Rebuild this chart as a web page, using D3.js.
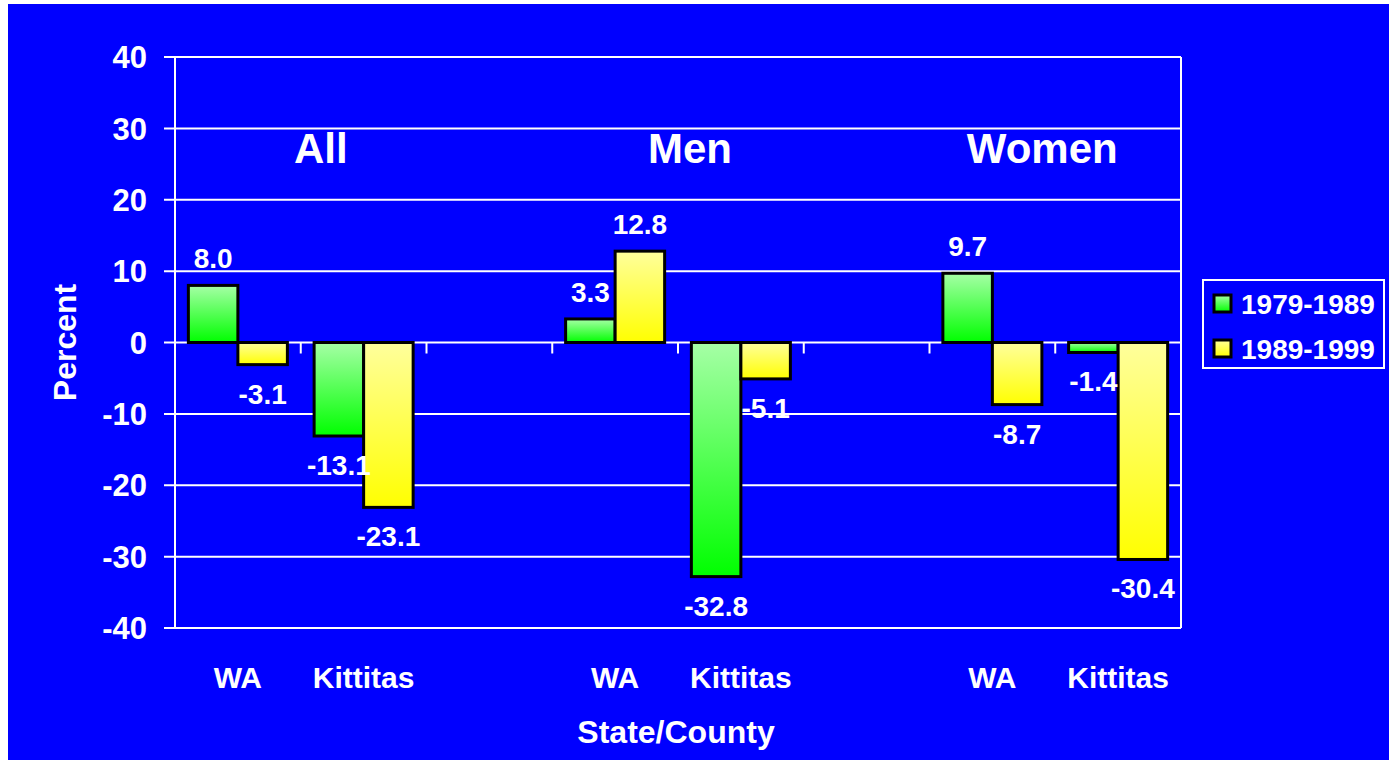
<!DOCTYPE html>
<html>
<head>
<meta charset="utf-8">
<script src="https://cdn.jsdelivr.net/npm/d3@7"></script>
<style>
  html, body { margin: 0; padding: 0; background: #ffffff; }
  svg { display: block; }
  text { font-family: "Liberation Sans", Arial, sans-serif; font-weight: bold; fill: #ffffff; }
</style>
</head>
<body>
<svg id="chart" width="1389" height="760"></svg>
<script>
// Percent change by state/county, split into All / Men / Women panels
const categories = ["WA", "Kittitas", "", "WA", "Kittitas", "", "WA", "Kittitas"];
const seriesNames = ["1979-1989", "1989-1999"];
const values1979 = [8.0, -13.1, null, 3.3, -32.8, null, 9.7, -1.4];
const values1989 = [-3.1, -23.1, null, 12.8, -5.1, null, -8.7, -30.4];
const groupTitles = ["All", "Men", "Women"];
const yTicks = [-40, -30, -20, -10, 0, 10, 20, 30, 40];

const svg = d3.select("#chart");
const W = 1389, H = 760;
const BLUE = "#0000ff";

// background panel (thin white margin on left/top)
svg.append("rect").attr("x", 8).attr("y", 4).attr("width", W - 8).attr("height", H - 4).attr("fill", BLUE);

const plot = { left: 175, right: 1181, top: 57, bottom: 628 };

const x = d3.scaleBand().domain(d3.range(categories.length)).range([plot.left, plot.right]).padding(0);
const xInner = d3.scaleBand().domain(seriesNames).range([0, x.bandwidth()]).paddingInner(0).paddingOuter(0.27);
const y = d3.scaleLinear().domain([-40, 40]).range([plot.bottom, plot.top]);

// gradients
const defs = svg.append("defs");
const grads = [
  { id: "g0", top: "#a6ffa6", bottom: "#00ff00" },
  { id: "g1", top: "#ffff9c", bottom: "#ffff00" }
];
grads.forEach(g => {
  const lg = defs.append("linearGradient").attr("id", g.id).attr("x1", 0).attr("y1", 0).attr("x2", 0).attr("y2", 1);
  lg.append("stop").attr("offset", "0%").attr("stop-color", g.top);
  lg.append("stop").attr("offset", "100%").attr("stop-color", g.bottom);
});

// gridlines with left tick marks
svg.append("g").selectAll("line").data(yTicks).join("line")
  .attr("x1", plot.left - 11).attr("x2", plot.right)
  .attr("y1", d => y(d)).attr("y2", d => y(d))
  .attr("stroke", "#fff").attr("stroke-width", 2);

// plot frame verticals
[plot.left, plot.right].forEach(px => {
  svg.append("line").attr("x1", px).attr("x2", px).attr("y1", plot.top).attr("y2", plot.bottom)
    .attr("stroke", "#fff").attr("stroke-width", 2);
});

// y tick labels
svg.append("g").selectAll("text").data(yTicks).join("text")
  .attr("x", 147).attr("y", d => y(d)).attr("dy", "0.36em")
  .attr("text-anchor", "end").attr("font-size", 31)
  .text(d => d);

// category boundary ticks on zero line
svg.append("g").selectAll("line").data(d3.range(1, categories.length)).join("line")
  .attr("x1", d => plot.left + d * x.step()).attr("x2", d => plot.left + d * x.step())
  .attr("y1", y(0)).attr("y2", y(0) + 11)
  .attr("stroke", "#fff").attr("stroke-width", 2);

// bars
const rows = [];
categories.forEach((c, i) => {
  [values1979, values1989].forEach((arr, s) => {
    if (arr[i] !== null) rows.push({ i, s, v: arr[i] });
  });
});

svg.append("g").selectAll("rect").data(rows).join("rect")
  .attr("x", d => x(d.i) + xInner(seriesNames[d.s]))
  .attr("width", xInner.bandwidth())
  .attr("y", d => y(Math.max(0, d.v)))
  .attr("height", d => Math.abs(y(d.v) - y(0)))
  .attr("fill", d => `url(#g${d.s})`)
  .attr("stroke", "#000").attr("stroke-width", 3);

// value labels
svg.append("g").selectAll("text").data(rows).join("text")
  .attr("x", d => x(d.i) + xInner(seriesNames[d.s]) + xInner.bandwidth() / 2)
  .attr("y", d => d.v >= 0 ? y(d.v) - 17 : y(d.v) + 39)
  .attr("text-anchor", "middle").attr("font-size", 28)
  .text(d => d.v.toFixed(1));

// category labels
svg.append("g").selectAll("text").data(categories.map((c, i) => ({ c, i })).filter(d => d.c)).join("text")
  .attr("x", d => x(d.i) + x.bandwidth() / 2).attr("y", 688)
  .attr("text-anchor", "middle").attr("font-size", 30)
  .text(d => d.c);

// group titles over each pair of categories
const titleShift = [20, 12, -13];
groupTitles.forEach((t, g) => {
  const cx = plot.left + (g * 3 + 1) * x.step() + titleShift[g];
  svg.append("text").attr("x", cx).attr("y", y(27.2)).attr("dy", "0.36em")
    .attr("text-anchor", "middle").attr("font-size", 42).text(t);
});

// axis titles
svg.append("text").attr("x", 676).attr("y", 743).attr("text-anchor", "middle").attr("font-size", 32).text("State/County");
svg.append("text").attr("transform", `translate(76, ${y(0)}) rotate(-90)`)
  .attr("text-anchor", "middle").attr("font-size", 32).text("Percent");

// legend
const leg = svg.append("g");
leg.append("rect").attr("x", 1203).attr("y", 280).attr("width", 181).attr("height", 88)
  .attr("fill", BLUE).attr("stroke", "#fff").attr("stroke-width", 2);
seriesNames.forEach((n, k) => {
  const cy = 304 + k * 45;
  leg.append("rect").attr("x", 1214).attr("y", cy - 9).attr("width", 17).attr("height", 17)
    .attr("fill", `url(#g${k})`).attr("stroke", "#000").attr("stroke-width", 3);
  leg.append("text").attr("x", 1241).attr("y", cy).attr("dy", "0.36em").attr("font-size", 28).text(n);
});
</script>
</body>
</html>
